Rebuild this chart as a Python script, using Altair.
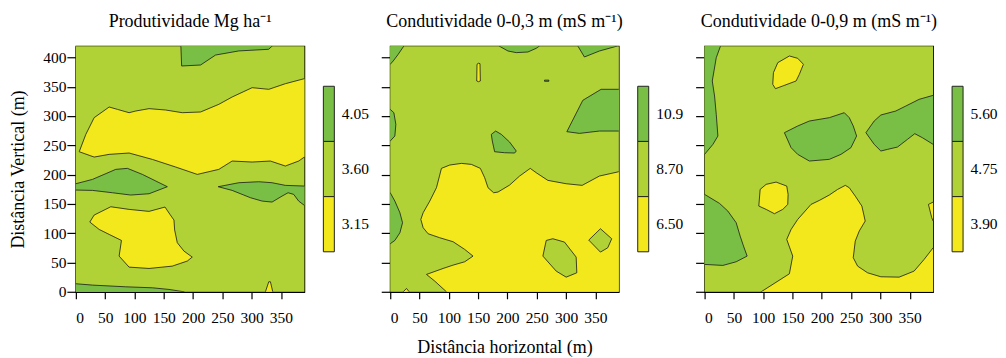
import altair as alt

# ---------------- colours / levels ----------------
LOW, MID, HIGH = "#F2E81B", "#B1D236", "#79BF45"
X_DOMAIN = [0, 390]
Y_DOMAIN = [0, 419]
X_TICKS = [0, 50, 100, 150, 200, 250, 300, 350]
Y_TICKS = [0, 50, 100, 150, 200, 250, 300, 350, 400]

TITLES = ["Produtividade Mg ha\u207b\u00b9",
          "Condutividade 0-0,3 m (mS m\u207b\u00b9)",
          "Condutividade 0-0,9 m (mS m\u207b\u00b9)"]
CBAR_LABELS = [["4.05", "3.60", "3.15"],
               ["10.9", "8.70", "6.50"],
               ["5.60", "4.75", "3.90"]]

# ---------------- contour regions (x, y in metres) ----------------
# Panel 1 - Produtividade
P1_HIGH_TOP = [[179, 425], [180.5, 385.3], [212.8, 387], [238.4, 404], [278, 411], [329, 413.8], [341, 425]]
P1_LOW_BAND = [[5.7, 239], [17, 268.6], [31.2, 297.1], [56.8, 315.3], [70.9, 311.3], [90.8, 305.6],
               [102.2, 308.5], [124.9, 312.5], [153.2, 310.2], [181.6, 305.6], [212.8, 306.8], [244, 319.9],
               [266.7, 332.4], [300.8, 348.3], [329.2, 345.5], [357.5, 355.1], [390, 363.7], [396, 364],
               [396, 230], [390, 229.9], [380.2, 223.1], [357.5, 214.6], [332, 223.1], [300.8, 221.4],
               [266.7, 223.1], [244, 208.9], [207.2, 200.3], [170.3, 212.9], [130.5, 225.9], [90.8, 236.8],
               [56.8, 234.5], [31.2, 229.9]]
P1_HIGH_LEFT = [[-5, 184.4], [0, 184.4], [28.4, 191.8], [68.1, 208.9], [88, 210.6], [113.5, 200.3],
                [156.1, 179.3], [124.9, 167.3], [93.6, 165.1], [62.4, 169], [28.4, 173], [0, 173.6], [-5, 173.6]]
P1_HIGH_RIGHT = [[242.9, 179.3], [278.1, 186.1], [312.1, 187.8], [334.8, 186.1], [357.5, 181.6], [390, 180.4],
                 [396, 180.4], [396, 147.4], [390, 147.4], [380.2, 154.8], [371.7, 166.2], [362.1, 169],
                 [351.9, 163.3], [334.8, 153.1], [317.8, 154.8], [298, 160.5], [266.7, 173]]
P1_LOW_BLOB = [[23.8, 119], [31.2, 130.9], [59.6, 145.1], [90.8, 140.6], [124.9, 137.2], [152.1, 144.6],
               [160.6, 132], [167.4, 122.4], [168.6, 105.3], [173.1, 83.7], [184.5, 69.4], [198.6, 59.2],
               [190.1, 52.4], [164.6, 43.8], [124.9, 39.8], [90.8, 42.1], [73.8, 60.9], [77.8, 87.6],
               [56.8, 97.9], [39.7, 106.4]]
P1_HIGH_BOTTOM = [[-5, 13.7], [0, 13.7], [28.4, 11.4], [85.1, 8.5], [130.5, 6.8], [158.9, 4], [184.5, 0],
                  [190, -5], [-5, -5]]
P1_LOW_SPIKE = [[323.5, -5], [323.5, 0], [329.2, 17.1], [332, 17.1], [336, 0], [336, -5]]

# Panel 2 - Condutividade 0-0,3 m
P2_HIGH_TL = [[-5, 388.2], [0, 388.2], [5.1, 393.9], [13.6, 405.2], [23.3, 419.5], [24, 425], [-5, 425]]
P2_HIGH_TOP = [[185.6, 425], [185.6, 419.5], [200.9, 410.9], [215.1, 408.1], [235, 409.2], [249.1, 415.5],
               [254.8, 419.5], [255, 425]]
P2_HIGH_TR = [[320, 425], [320.1, 419.5], [331.4, 400.7], [357, 410.9], [388, 419.5], [388, 425]]
P2_LOW_SLIVER = [[148.1, 388.2], [150.5, 390], [153.2, 389.3], [153.8, 359.7], [150.7, 358.5], [147.6, 359.7]]
P2_HIGH_DASH = [[263.3, 361.2], [270.7, 361.2], [270.7, 359.2], [263.3, 359.2]]
P2_HIGH_RIGHT = [[301.4, 273.2], [328.6, 326.7], [359.8, 345.5], [396, 345.5], [396, 274.3], [357, 274.3],
                 [322.9, 270.3]]
P2_HIGH_LEFT = [[-5, 311.3], [0, 311.3], [6.2, 305.6], [9.6, 285.7], [7.9, 265.8], [0, 257.3], [-5, 257.3]]
P2_HIGH_CENTER = [[172.5, 268.6], [179.9, 274.3], [189.6, 268.6], [203.7, 255.5], [215.1, 240.2],
                  [212.3, 236.8], [195.2, 237.3], [178.2, 239], [174.2, 257.3]]
P2_HIGH_LEFT_LOW = [[-5, 169], [0, 169], [7.9, 154.8], [16.5, 134.9], [21, 117.8], [16.5, 100.7], [7.9, 87.6],
                    [0, 82], [-5, 82]]
P2_LOW_BIG = [[87.4, 210.6], [101.6, 216.3], [121.5, 219.1], [138.5, 217.4], [153.8, 210.6], [161.2, 194.6],
              [166.9, 177.6], [176.5, 169], [183.9, 170.2], [203.7, 182.1], [220.8, 197.5], [238.9, 210.6],
              [249.1, 203.2], [269, 190.1], [300.2, 184.4], [327.5, 181.6], [357, 197.5], [390, 204.9],
              [396, 205], [396, -5], [95.9, -5], [95.9, 0], [76, 18.2], [61.9, 29.6], [90.2, 39.8],
              [107.3, 45.5], [127.1, 51.2], [141.3, 60.9], [127.1, 72.3], [107.3, 85.4], [84.6, 92.2],
              [64.7, 99], [56.2, 109.3], [52.2, 123.5], [56.2, 134.9], [67.5, 154.8], [78.9, 177.6]]
P2_MID_HOLE_1 = [[260.5, 60.9], [266.2, 87.6], [277.5, 90.5], [297.4, 84.8], [317.3, 59.2], [318.4, 32.4],
                 [300.2, 25], [283.2, 35.3]]
P2_MID_HOLE_2 = [[338.8, 88.2], [358.7, 107.6], [378, 90.5], [371.2, 75.1], [358.7, 67.7]]
P2_LOW_CORNER = [[22.1, -5], [22.1, 0], [27.8, 5.7], [32.3, 0], [32.3, -5]]

# Panel 3 - Condutividade 0-0,9 m
P3_HIGH_LEFT = [[-5, 425], [27.2, 425], [27.2, 419.5], [19.9, 399.5], [13.1, 359.7], [17, 334.1],
                [19.9, 302.8], [22.7, 265.8], [14.2, 251.6], [0, 234.5], [-5, 234.5]]
P3_LOW_TOP = [[116.3, 354], [117.5, 373.9], [124.9, 391], [144.7, 402.4], [158.9, 398.4], [168.6, 388.2],
              [161.7, 371.1], [156.1, 359.7], [133.4, 351.2], [120.9, 346.6]]
P3_HIGH_CENTER = [[136.2, 271.5], [158.9, 282.9], [178.8, 291.4], [212.8, 297.1], [238.4, 305.6],
                  [246.9, 297.1], [253.7, 282.9], [259.4, 265.8], [249.7, 245.9], [232.7, 234.5],
                  [212.8, 226], [178.8, 223.1], [158.9, 234.5], [147.6, 245.9]]
P3_HIGH_RIGHT = [[275.3, 271.5], [289.4, 291.4], [300.8, 301.7], [326.3, 308.5], [343.4, 317], [366.1, 328.4],
                 [390, 335.2], [396, 335.2], [396, 251.6], [390, 251.6], [371.7, 262.9], [358.7, 269.8],
                 [346.2, 260.1], [329.2, 247], [312.1, 243], [300.8, 240.2], [289.4, 251.6]]
P3_LOW_MID = [[92.5, 146.3], [94.8, 174.7], [105, 183.3], [122, 187.2], [140.2, 180.4], [142.5, 166.2],
              [141.9, 149.1], [133.4, 140.6], [119.2, 133.2], [105, 140.6]]
P3_HIGH_LOWLEFT = [[-5, 166.2], [0, 166.2], [25.5, 150.8], [39.7, 137.7], [53.9, 117.8], [60.7, 95],
                   [66.4, 78], [72.6, 60.9], [53.9, 51.2], [31.2, 45], [0, 46.7], [-5, 46.7]]
P3_LOW_BIG = [[96.5, -5], [96.5, 0], [144.7, 30.7], [150.4, 60.9], [140.2, 89.4], [147.6, 106.4],
              [158.9, 123.5], [181.6, 149.1], [195.8, 155.9], [212.8, 165.1], [227, 174.7], [240.1, 181.6],
              [246.9, 177.6], [257.1, 163.3], [268.4, 146.3], [274.1, 120.7], [263.9, 103.6], [257.1, 86.5],
              [253.7, 58.1], [261.1, 43.8], [278.1, 32.4], [300.8, 25.6], [332, 25], [357.5, 35.3],
              [374.6, 55.2], [390, 75.1], [396, 75.1], [396, -5]]
P3_LOW_EDGE = [[396, 153.1], [390, 153.1], [382, 149.1], [387.6, 126.4], [390, 120.7], [396, 120.7]]

PANEL_REGIONS = [
    [(P1_HIGH_TOP, HIGH), (P1_LOW_BAND, LOW), (P1_HIGH_LEFT, HIGH), (P1_HIGH_RIGHT, HIGH),
     (P1_LOW_BLOB, LOW), (P1_HIGH_BOTTOM, HIGH), (P1_LOW_SPIKE, LOW)],
    [(P2_HIGH_TL, HIGH), (P2_HIGH_TOP, HIGH), (P2_HIGH_TR, HIGH), (P2_LOW_SLIVER, LOW), (P2_HIGH_DASH, HIGH),
     (P2_HIGH_RIGHT, HIGH), (P2_HIGH_LEFT, HIGH), (P2_HIGH_CENTER, HIGH), (P2_HIGH_LEFT_LOW, HIGH),
     (P2_LOW_BIG, LOW), (P2_MID_HOLE_1, MID), (P2_MID_HOLE_2, MID), (P2_LOW_CORNER, LOW)],
    [(P3_HIGH_LEFT, HIGH), (P3_LOW_TOP, LOW), (P3_HIGH_CENTER, HIGH), (P3_HIGH_RIGHT, HIGH),
     (P3_LOW_MID, LOW), (P3_HIGH_LOWLEFT, HIGH), (P3_LOW_BIG, LOW), (P3_LOW_EDGE, LOW)],
]

FONT = "Liberation Serif"
W, H = 229, 246
BAR_W = 11


def feature(coords, color):
    ring = [list(p) for p in coords] + [list(coords[0])]
    return {"type": "Feature", "properties": {"c": color},
            "geometry": {"type": "Polygon", "coordinates": [ring]}}


def panel(i):
    x_axis = alt.Axis(values=X_TICKS, labelPadding=12, tickSize=7,
                      title="Distância horizontal (m)" if i == 1 else None, titlePadding=12)
    y_axis = alt.Axis(values=Y_TICKS, labels=(i == 0), labelPadding=1, tickSize=9,
                      title="Distância Vertical (m)" if i == 0 else None, titlePadding=15)
    bg = alt.Chart(alt.Data(values=[{"x0": X_DOMAIN[0], "x1": X_DOMAIN[1],
                                     "y0": Y_DOMAIN[0], "y1": Y_DOMAIN[1]}])).mark_rect(fill=MID).encode(
        x=alt.X("x0:Q", scale=alt.Scale(domain=X_DOMAIN, nice=False, zero=False), axis=x_axis),
        x2="x1:Q",
        y=alt.Y("y0:Q", scale=alt.Scale(domain=Y_DOMAIN, nice=False, zero=False), axis=y_axis),
        y2="y1:Q",
    )
    feats = [feature(c, col) for c, col in PANEL_REGIONS[i]]
    shapes = alt.Chart(alt.Data(values=feats)).mark_geoshape(
        clip=True, stroke="#1a1a1a", strokeWidth=0.8
    ).encode(
        fill=alt.Fill("properties.c:N", scale=None)
    ).project(type="identity", reflectY=True, scale=W / (X_DOMAIN[1] - X_DOMAIN[0]), translate=[0, H])
    return alt.layer(bg, shapes).properties(
        width=W, height=H,
        title=alt.TitleParams(TITLES[i], fontSize=18, font=FONT, fontWeight="normal", offset=15),
    )


def colorbar(i, cell_w):
    labels = CBAR_LABELS[i]
    rows = [{"label": lab, "c": col, "k": "bar"} for lab, col in zip(labels, [HIGH, MID, LOW])]
    if cell_w > BAR_W:
        slots = ["bar", "pad1", "pad2", "pad3"]
        pad_outer = (cell_w / BAR_W - len(slots)) / 2
        xscale = alt.Scale(domain=slots, paddingInner=0, paddingOuter=pad_outer, align=0)
    else:
        xscale = alt.Scale(domain=["bar"], paddingInner=0, paddingOuter=0)
    return alt.Chart(alt.Data(values=rows)).mark_rect(stroke="#222222", strokeWidth=1).encode(
        x=alt.X("k:N", axis=None, scale=xscale),
        y=alt.Y("label:N", sort=labels,
                axis=alt.Axis(orient="right", offset=-(cell_w - BAR_W), ticks=False, tickSize=0, domain=False,
                              labelPadding=7, title=None, labelFontSize=15.5),
                scale=alt.Scale(paddingInner=0, paddingOuter=0.725)),
        fill=alt.Fill("c:N", scale=None),
    ).properties(width=cell_w, height=H, view=alt.ViewBackground(stroke="transparent"))


chart = alt.hconcat(
    panel(0), colorbar(0, 48), panel(1), colorbar(1, 48), panel(2), colorbar(2, BAR_W),
    spacing=19, bounds="flush",
).configure_view(
    stroke="black", strokeWidth=1.3
).configure_axis(
    domainColor="black", tickColor="black", labelColor="black", titleColor="black",
    labelFont=FONT, titleFont=FONT, labelFontSize=15.5, titleFontSize=18, titleFontWeight="normal",
    grid=False, domainWidth=1.3, tickWidth=1.2,
).configure_title(
    font=FONT, fontSize=18, fontWeight="normal", color="black"
).properties(
    background="white",
    padding={"left": 1, "top": 4, "right": 0, "bottom": 0},
)

chart.save("out.html", embed_options={"renderer": "svg", "actions": False})
